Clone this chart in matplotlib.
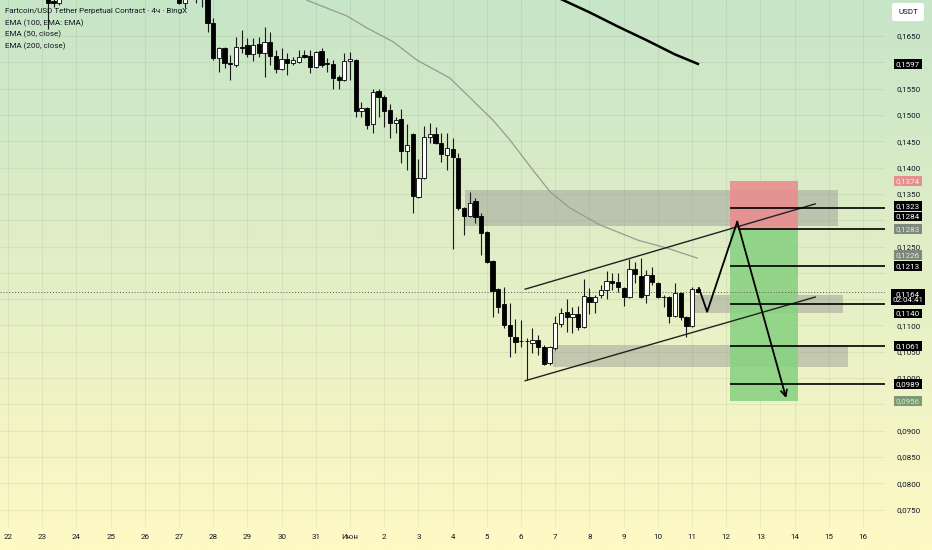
import numpy as np
import matplotlib
matplotlib.use("Agg")
import matplotlib.pyplot as plt
from matplotlib.patches import Rectangle
from matplotlib.transforms import blended_transform_factory, offset_copy

plt.rcParams['font.family'] = ['Roboto', 'DejaVu Sans']

# time axis in days from 22 May 00:00, one candle = 4h
first_candle = 7 / 6
nan = float('nan')

opens = [0.1730, 0.1716, 0.1712] + [nan] * 20 + [0.1735, 0.1713, nan, 0.1730, 0.1740,
    0.1725, 0.1675, 0.1608, 0.1627, 0.1598, 0.1595, 0.1629, 0.1633, 0.1616, 0.1635,
    0.1618, 0.1639, 0.1612, 0.1587, 0.1606, 0.1599, 0.1601, 0.1614, 0.1612, 0.1591,
    0.1621, 0.1598, 0.1597, 0.1572, 0.1566, 0.1602, 0.1604, 0.1508, 0.1513, 0.1483,
    0.1546, 0.1534, 0.1509, 0.1485, 0.1492, 0.1432, 0.1464, 0.1344, 0.1380, 0.1458,
    0.1464, 0.1447, 0.1424, 0.1435, 0.1418, 0.1323, 0.1308, 0.1336, 0.1308, 0.1278,
    0.1222, 0.1169, 0.1141, 0.1101, 0.1078, 0.1071, 0.1070, 0.1067, 0.1072, 0.1059,
    0.1029, 0.1057, 0.1103, 0.1126, 0.1116, 0.1122, 0.1097, 0.1154, 0.1145, 0.1158,
    0.1167, 0.1185, 0.1183, 0.1171, 0.1154, 0.1207, 0.1194, 0.1158, 0.1196, 0.1181,
    0.1155, 0.1154, 0.1118, 0.1162, 0.1116, 0.1099, 0.1169]
highs = [0.1740, 0.1725, 0.1728] + [nan] * 20 + [0.1745, 0.1740, nan, 0.1750, 0.1750,
    0.1735, 0.1684, 0.1629, 0.1629, 0.1614, 0.1648, 0.1661, 0.1646, 0.1646, 0.1648,
    0.1667, 0.1658, 0.1623, 0.1627, 0.1618, 0.1610, 0.1623, 0.1623, 0.1623, 0.1621,
    0.1627, 0.1608, 0.1604, 0.1576, 0.1618, 0.1620, 0.1606, 0.1525, 0.1515, 0.1549,
    0.1549, 0.1538, 0.1521, 0.1496, 0.1511, 0.1483, 0.1466, 0.1416, 0.1479, 0.1485,
    0.1477, 0.1466, 0.1466, 0.1456, 0.1428, 0.1325, 0.1354, 0.1342, 0.1314, 0.1280,
    0.1224, 0.1171, 0.1173, 0.1143, 0.1112, 0.1110, 0.1076, 0.1095, 0.1082, 0.1063,
    0.1061, 0.1118, 0.1133, 0.1151, 0.1135, 0.1137, 0.1188, 0.1171, 0.1158, 0.1177,
    0.1203, 0.1200, 0.1200, 0.1173, 0.1226, 0.1221, 0.1228, 0.1205, 0.1211, 0.1183,
    0.1158, 0.1156, 0.1181, 0.1164, 0.1118, 0.1173, 0.1173]
lows = [0.1663, 0.1705, 0.1709] + [nan] * 20 + [0.1710, 0.1703, nan, 0.1713, 0.1705,
    0.1658, 0.1604, 0.1582, 0.1589, 0.1566, 0.1591, 0.1618, 0.1610, 0.1602, 0.1610,
    0.1572, 0.1595, 0.1580, 0.1585, 0.1576, 0.1595, 0.1599, 0.1608, 0.1580, 0.1589,
    0.1591, 0.1582, 0.1549, 0.1549, 0.1565, 0.1566, 0.1496, 0.1496, 0.1473, 0.1466,
    0.1496, 0.1477, 0.1456, 0.1466, 0.1409, 0.1395, 0.1314, 0.1342, 0.1378, 0.1447,
    0.1445, 0.1411, 0.1395, 0.1245, 0.1319, 0.1272, 0.1306, 0.1295, 0.1234, 0.1219,
    0.1116, 0.1124, 0.1095, 0.1040, 0.1048, 0.1059, 0.0996, 0.1048, 0.1044, 0.1025,
    0.1025, 0.1053, 0.1097, 0.1088, 0.1086, 0.1091, 0.1095, 0.1122, 0.1124, 0.1152,
    0.1151, 0.1167, 0.1164, 0.1137, 0.1152, 0.1181, 0.1152, 0.1143, 0.1177, 0.1152,
    0.1135, 0.1105, 0.1116, 0.1110, 0.1078, 0.1097, 0.1162]
closes = [0.1713, 0.1712, 0.1722] + [nan] * 20 + [0.1713, 0.1730, nan, 0.1740, 0.1728,
    0.1675, 0.1608, 0.1627, 0.1599, 0.1597, 0.1629, 0.1628, 0.1616, 0.1633, 0.1618,
    0.1639, 0.1612, 0.1587, 0.1606, 0.1599, 0.1604, 0.1610, 0.1610, 0.1591, 0.1620,
    0.1595, 0.1597, 0.1570, 0.1566, 0.1602, 0.1606, 0.1508, 0.1513, 0.1481, 0.1544,
    0.1534, 0.1508, 0.1485, 0.1490, 0.1432, 0.1443, 0.1346, 0.1380, 0.1458, 0.1464,
    0.1447, 0.1426, 0.1437, 0.1420, 0.1323, 0.1308, 0.1333, 0.1306, 0.1276, 0.1221,
    0.1166, 0.1135, 0.1101, 0.1080, 0.1069, 0.1070, 0.1071, 0.1072, 0.1059, 0.1027,
    0.1059, 0.1105, 0.1124, 0.1116, 0.1122, 0.1097, 0.1156, 0.1145, 0.1154, 0.1167,
    0.1185, 0.1181, 0.1173, 0.1154, 0.1207, 0.1198, 0.1154, 0.1196, 0.1183, 0.1154,
    0.1154, 0.1118, 0.1162, 0.1116, 0.1099, 0.1169, 0.1164]

day_labels = ['22', '23', '24', '25', '26', '27', '28', '29', '30', '31', 'Июн',
              '2', '3', '4', '5', '6', '7', '8', '9', '10', '11', '12', '13', '14', '15', '16']
price_ticks = np.round(np.arange(0.0750, 0.16501, 0.0050), 4)
# tick labels the app hides behind price badges
hidden_ticks = [0.1600, 0.1300, 0.1200, 0.1150, 0.0950]

ema50_t = [8.74, 9.91, 10.50, 11.26, 11.96, 12.92, 14.18, 14.68, 15.35, 15.85, 16.43, 17.31, 18.42, 19.27, 20.15]
ema50_p = [0.1718, 0.1688, 0.1665, 0.1639, 0.1604, 0.1570, 0.1490, 0.1452, 0.1395, 0.1354, 0.1323, 0.1291, 0.1262, 0.1247, 0.1228]
ema200_t = [16.17, 17.00, 17.83, 18.67, 19.50, 20.17]
ema200_p = [0.1720, 0.1695, 0.1668, 0.1642, 0.1615, 0.1597]

channel_t = [15.12, 23.60]
channel_top = [0.1169, 0.1331]
channel_bot = [0.0995, 0.1154]

path_t = [20.20, 20.44, 21.32, 22.75]
path_p = [0.1171, 0.1126, 0.1297, 0.0962]

level_prices = [0.1323, 0.1284, 0.1213, 0.1140, 0.1061, 0.0989]
level_start = [21.10, 21.35, 21.10, 21.10, 21.10, 21.10]

gray_t0 = [13.36, 20.00, 15.94]
gray_t1 = [24.27, 24.42, 24.56]
gray_lo = [0.1289, 0.1124, 0.1021]
gray_hi = [0.1357, 0.1158, 0.1063]

trade_t = [21.11, 23.10]
stop_price = 0.1374
entry_price = 0.1283
target_price = 0.0956
last_price = 0.1164

badge_values = [0.1597, 0.1374, 0.1323, 0.1284, 0.1283, 0.1226, 0.1213, 0.1164, 0.1140, 0.1061, 0.0989, 0.0956]
badge_faces = ['#000000', '#e58f8f', '#000000', '#000000', '#7d897a', '#7d897a',
               '#000000', '#000000', '#000000', '#000000', '#000000', '#7c9a77']
badge_texts = ['white', '#fde8e8', 'white', 'white', '#e6e6e6', '#e6e6e6',
               'white', 'white', 'white', 'white', 'white', '#c4f2bb']
badge_shift = [0, 0, 2, 12, 0, 4, 0, -5, -9, 0, 0, 0]   # px, stacking like the app

legend_lines = ['Fartcoin/USD Tether Perpetual Contract · 4ч · BingX',
                'EMA (100, EMA: EMA)', 'EMA (50, close)', 'EMA (200, close)']

W, H = 932, 550
fig = plt.figure(figsize=(W / 100, H / 100), dpi=100)

# background gradient green -> yellow
bg = fig.add_axes([0, 0, 1, 1], zorder=-10)
top = np.array([199, 229, 200]) / 255
bot = np.array([255, 249, 196]) / 255
k = np.linspace(0, 1, 256)[:, None]
grad = (top * (1 - k) + bot * k)[:, None, :]
bg.imshow(grad, aspect='auto', extent=[0, 1, 0, 1])
bg.axis('off')

ax = fig.add_axes([0, 23 / H, 885 / W, 527 / H])
ax.set_facecolor('none')
for s in ax.spines.values():
    s.set_visible(False)
ax.set_axisbelow(True)
ax.set_xlim(-0.234, 25.64)
ax.set_ylim(0.07171, 0.17184)

ax.set_xticks(range(len(day_labels)))
ax.set_xticklabels(day_labels)
ax.yaxis.tick_right()
ax.set_yticks(price_ticks)
ax.set_yticklabels(['' if v in hidden_ticks else f"{v:.4f}".replace('.', ',') for v in price_ticks])
ax.tick_params(axis='x', length=0, pad=5, labelsize=5.8, labelcolor='#131722')
ax.tick_params(axis='y', length=0, pad=8.2, labelsize=5.8, labelcolor='#131722')
ax.grid(True, color='#000000', alpha=0.055, lw=0.8)

# zones
for t0, t1, lo, hi in zip(gray_t0, gray_t1, gray_lo, gray_hi):
    ax.add_patch(Rectangle((t0, lo), t1 - t0, hi - lo, facecolor='#8e8e8e', alpha=0.42,
                           edgecolor='none', zorder=2))
ax.add_patch(Rectangle((trade_t[0], entry_price), trade_t[1] - trade_t[0], stop_price - entry_price,
                       facecolor='#e88f8f', alpha=0.9, edgecolor='none', zorder=2))
ax.add_patch(Rectangle((trade_t[0], target_price), trade_t[1] - trade_t[0], entry_price - target_price,
                       facecolor='#8ad283', alpha=0.9, edgecolor='none', zorder=2))

# EMAs
ax.plot(ema50_t, ema50_p, color='#979b90', lw=0.9, zorder=3)
ax.plot(ema200_t, ema200_p, color='black', lw=1.8, zorder=3)

# candles
o = np.array(opens); h = np.array(highs); l = np.array(lows); c = np.array(closes)
t = first_candle + np.arange(len(o)) / 6
ok = ~np.isnan(o)
t, o, h, l, c = t[ok], o[ok], h[ok], l[ok], c[ok]
up = c >= o
ax.vlines(t, l, h, color='#1a1a1a', lw=0.8, zorder=4)
ax.bar(t, np.abs(c - o), width=0.125, bottom=np.minimum(o, c),
       color=np.where(up, 'white', 'black'), edgecolor='black', linewidth=0.6, zorder=5)

# channel
ax.plot(channel_t, channel_top, color='#222222', lw=1.0, zorder=6)
ax.plot(channel_t, channel_bot, color='#222222', lw=1.0, zorder=6)

# levels
ax.hlines(level_prices, level_start, 25.64, color='black', lw=1.2, zorder=6)
ax.axhline(last_price, color='#555555', lw=0.7, ls=(0, (1, 2)), zorder=3)

# projected path
ax.plot(path_t[:-1], path_p[:-1], color='black', lw=1.3, zorder=7)
ax.annotate('', xy=(path_t[-1], path_p[-1]), xytext=(path_t[-2], path_p[-2]),
            arrowprops=dict(arrowstyle='->', lw=1.3, color='black', shrinkA=0, shrinkB=0,
                            mutation_scale=11), zorder=7)

# price badges on right scale
bt = blended_transform_factory(ax.transAxes, ax.transData)
for v, fc, tc, sh in zip(badge_values, badge_faces, badge_texts, badge_shift):
    txt = f"{v:.4f}".replace('.', ',')
    if v == last_price:
        txt += "\n02:04:41"
    ax.text(908 / 885, v, txt, transform=offset_copy(bt, fig=fig, y=sh, units='dots'),
            ha='center', va='center', fontsize=5.8, color=tc, linespacing=1.0,
            bbox=dict(boxstyle='square,pad=0.22', facecolor=fc, edgecolor='none'),
            zorder=20, clip_on=False)

fig.text(908 / W, 1 - 12 / H, 'USDT', ha='center', va='center', fontsize=5.8, color='#131722',
         bbox=dict(boxstyle='round,pad=0.75,rounding_size=0.3', facecolor='white', edgecolor='none'))

for i, s in enumerate(legend_lines):
    fig.text(5 / W, 1 - [11, 23, 34, 46][i] / H, s, ha='left', va='center',
             fontsize=5.8, color='#131722')

fig.savefig('out.png', dpi=100)
